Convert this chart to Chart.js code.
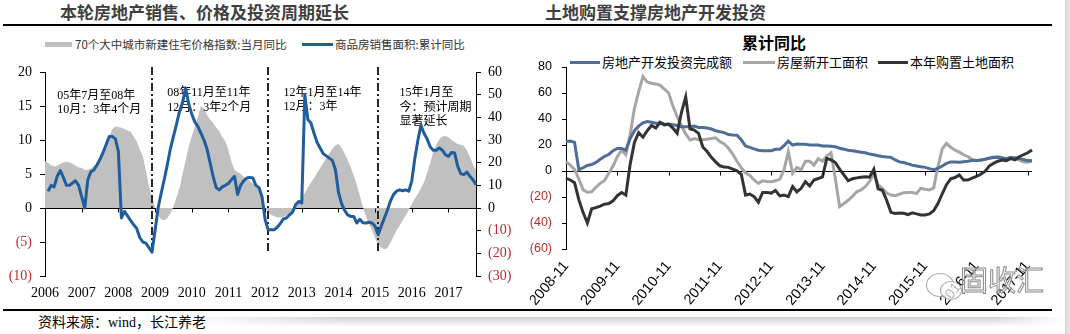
<!DOCTYPE html>
<html>
<head>
<meta charset="utf-8">
<script src="https://cdn.jsdelivr.net/npm/chart.js@4.4.0/dist/chart.umd.min.js"></script>
<style>
  html, body { margin: 0; padding: 0; background: #fff; }
  body { width: 1070px; height: 334px; position: relative; overflow: hidden; font-family: "Noto Sans CJK SC", sans-serif; }
  .abs { position: absolute; white-space: nowrap; }
  .title { top: 1px; font-size: 17px; line-height: 22px; font-weight: 700; color: #3f3f3f; }
  .rule { height: 2px; background: #000; }
  .lg-small { font-size: 11.5px; line-height: 14px; color: #333; }
  .lg { font-size: 13px; line-height: 16px; color: #000; }
  canvas { position: absolute; top: 0; }
</style>
</head>
<body>
  <div class="abs title" style="left:60px">本轮房地产销售、价格及投资周期延长</div>
  <div class="abs title" style="left:545px">土地购置支撑房地产开发投资</div>
  <div class="abs rule" style="left:3px;top:24px;width:1049px"></div>

  <!-- left legend -->
  <div class="abs" style="left:45px;top:42px;width:27px;height:5px;background:#c0c0c0"></div>
  <div class="abs lg-small" style="left:75px;top:37px">70个大中城市新建住宅价格指数:当月同比</div>
  <div class="abs" style="left:302px;top:43px;width:31px;height:3px;background:#1f5d9c"></div>
  <div class="abs lg-small" style="left:335px;top:37px">商品房销售面积:累计同比</div>

  <!-- right chart heading and legend -->
  <div class="abs" style="left:742px;top:32px;font-size:16px;line-height:20px;font-weight:700;color:#000">累计同比</div>
  <div class="abs" style="left:570px;top:61px;width:30px;height:3px;background:#4e6d98"></div>
  <div class="abs lg" style="left:602px;top:54px">房地产开发投资完成额</div>
  <div class="abs" style="left:743px;top:61px;width:32px;height:3px;background:#a6a6a6"></div>
  <div class="abs lg" style="left:777px;top:54px">房屋新开工面积</div>
  <div class="abs" style="left:878px;top:61px;width:30px;height:3px;background:#333"></div>
  <div class="abs lg" style="left:910px;top:54px">本年购置土地面积</div>

  <canvas id="cL" width="540" height="310" style="left:0"></canvas>
  <canvas id="cR" width="540" height="310" style="left:530px"></canvas>

  <!-- account mark -->
  <div class="abs" style="left:926px;top:273px;width:26px;height:22px;border:1px solid #aaa;border-radius:50%"></div>
  <div class="abs" style="left:940px;top:281px;width:20px;height:17px;border:1px solid #aaa;border-radius:50%;background:rgba(255,255,255,0.7)"></div>
  <div class="abs" style="left:960px;top:262px;font-size:28px;line-height:34px;color:rgba(255,255,255,0.5);-webkit-text-stroke:1px #8a8a8a">固收汇</div>

  <div class="abs rule" style="left:3px;top:309px;width:1049px"></div>
  <div class="abs" style="left:38px;top:314px;font-size:14px;line-height:17px;color:#000;font-family:'Liberation Serif','Noto Sans CJK SC',serif">资料来源：wind，长江养老</div>
  <div class="abs" style="left:180px;top:317px;width:885px;height:10px;background:linear-gradient(to bottom, rgba(170,170,170,0.55), rgba(255,255,255,0));-webkit-mask-image:linear-gradient(to right, transparent, #000 18%, #000 92%, transparent)"></div>
  <div class="abs" style="left:1065px;top:0;width:5px;height:334px;background:#e3e3e3;border-left:1px solid #cfcfcf"></div>

<script>
Chart.defaults.animation = false;

// ---------- left chart: sales area vs. 70-city price index (monthly, 2006-01 .. 2017-10)
const monthsL = [];
for (let y = 2006; y <= 2017; y++) {
  for (let m = 1; m <= 12; m++) {
    if (y === 2017 && m > 10) break;
    monthsL.push(y + '-' + String(m).padStart(2, '0'));
  }
}

// 70个大中城市新建住宅价格指数:当月同比 (%)
const priceIndexYoY = [
  6.9, 6.6, 6.3, 6.1, 6.2, 6.5, 6.7, 6.8, 6.7, 6.5, 6.2, 6.0,
  5.9, 5.6, 5.6, 5.8, 6.2, 6.6, 7.2, 7.9, 9.0, 10.5, 11.6, 12.0,
  11.9, 11.8, 11.6, 11.4, 11.2, 10.5, 9.8, 8.6, 7.6, 5.5, 3.2, 1.5,
  0.1, -1.0, -1.7, -1.8, -1.5, -0.8, 0.2, 1.5, 2.9, 5.0, 7.0, 9.0,
  10.5, 12.0, 13.3, 15.0, 14.6, 13.7, 13.0, 12.5, 11.8, 11.3, 10.4, 9.8,
  8.5, 6.8, 5.6, 5.3, 5.0, 4.6, 4.3, 4.0, 3.6, 3.5, 2.9, 1.5,
  0.0, -0.7, -1.0, -1.2, -1.4, -1.4, -1.3, -1.1, -0.9, -0.5, 0.0, 0.7,
  1.5, 2.2, 3.0, 3.7, 4.4, 5.1, 5.9, 6.6, 7.3, 8.0, 8.7, 9.2,
  9.4, 8.9, 8.0, 7.1, 6.0, 4.8, 3.4, 1.8, 0.2, -1.2, -2.4, -3.2,
  -4.5, -5.3, -5.8, -6.1, -5.9, -5.1, -4.2, -3.3, -2.6, -1.8, -1.1, -0.3,
  0.6, 1.4, 2.1, 2.9, 3.8, 5.2, 6.6, 8.2, 9.3, 10.1, 10.5, 10.6,
  10.4, 10.0, 9.7, 9.4, 9.3, 9.1, 8.5, 7.5, 6.4, 5.6
];

// 商品房销售面积:累计同比 (%)
const salesAreaYoY = [
  null, 7.4, 10, 9.3, 14, 16.5, 13.5, 10, 10, 11, 12, 10,
  5, 0, 12.5, 16, 16.8, 19, 21.5, 24.5, 28, 31.5, 31.5, 30.6,
  25, -4.4, -1.5, -3.5, -5.5, -7.4, -9, -13, -15, -15.5, -17.5, -19.5,
  -10, 0, 6.5, 12.5, 19, 26, 31.5, 36.8, 42.6, 46.5, 53, 46,
  41.5, 38, 36, 33, 30, 26, 20, 14, 9, 8, 9.3, 10,
  10.8, 12.5, 14, 6, 10, 12, 13.2, 13.5, 13.2, 10, 9, 5,
  -5, -9.6, -9.6, -9.6, -8.5, -6.8, -4.8, -4.4, -3, -1.8, 1.5, 2.9,
  2.2, 50, 39, 37.5, 33, 29, 26.5, 24, 23, 22, 21, 17,
  7, 2, -1, -3, -3.7, -3.7, -6.6, -5, -6.5, -6.6, -6.3, -6.6,
  -8, -11.8, -8, -4.5, -1, 3, 5.9, 7.4, 8, 7.6, 8, 7.4,
  12, 22, 30, 36.5, 33, 30.5, 27, 25.5, 25.5, 26.5, 25.5, 23.5,
  22.8, 24.5, 24.3, 18.5, 15.2, 14.7, 15.8, 14, 12.5, 10.3
];

// starts of each cycle (dash-dot separators) and the notes beside them
const cycleStarts = ['2008-12', '2012-02', '2015-02'];
const cycleNotes = [
  { at: '2006-05', top: 16.5, lines: ['05年7月至08年', '10月：3年4个月'] },
  { at: '2009-05', top: 16.9, lines: ['08年11月至11年', '12月：3年2个月'] },
  { at: '2012-07', top: 17.0, lines: ['12年1月至14年', '12月：3年'] },
  { at: '2015-09', top: 16.9, lines: ['15年1月至', '今：预计周期', '显著延长'] }
];

// ---------- right chart: land purchase / new starts / investment (cumulative YoY, 2008-11 .. 2017-12)
const monthsR = [];
for (let y = 2008; y <= 2017; y++) {
  for (let m = 1; m <= 12; m++) {
    if (y === 2008 && m < 11) continue;
    monthsR.push(y + '-' + String(m).padStart(2, '0'));
  }
}

// 房地产开发投资完成额
const investYoY = [
  22.6, 23,
  22, 1, 2.5, 4.2, 5, 6.6, 9, 11.2, 12.8, 15.6, 17.4, 17.4,
  16, 25, 31, 34.5, 37, 38, 37.5, 36.7, 36.7, 36, 36, 35.5,
  35, 34, 34, 34, 34.5, 33.5, 33.5, 33, 32.3, 31, 30.2, 29.5,
  28, 27.7, 27.5, 24, 19.2, 18.2, 17, 16, 15.6, 15.6, 15.6, 16.7,
  16.7, 19.5, 23, 20, 20.8, 20.5, 20.5, 20, 20, 20, 19.3, 19.2,
  19, 18.6, 17.5, 16.8, 16, 15.5, 15, 14.5, 14, 13, 12.5, 11.8,
  11.2, 10.8, 10.5, 8.5, 7, 6.5, 5.5, 4.5, 3.8, 3.2, 2.8, 1.8,
  1, 2, 3.8, 5.8, 7, 7, 6.8, 7.2, 7.5, 8, 8, 8.5,
  9, 9.8, 10.3, 10.5, 10, 9.7, 10.3, 10.2, 9.5, 8.8, 8, 7.9
];

// 房屋新开工面积
const newStartsYoY = [
  7.2, 4.6,
  1, -6, -14.5, -16.4, -16, -12.5, -9.5, -7.4, -1.8, 3.8, 11, 16,
  12.5, 28, 48, 61, 72.6, 68.5, 67.5, 67, 66, 63, 60, 50,
  41.8, 35, 28.5, 23.8, 25, 24, 24, 24.5, 25, 25.5, 22.6, 20.8,
  17.5, 13, 7.5, 2.5, -1.5, -3.5, -6.9, -9.5, -7.5, -8, -8.2, -7.5,
  -6.4, 0.8, 14.9, -1.8, 2.8, 1, 7.5, 7.5, 4.5, 9.5, 7.5, 11.5,
  14.1, -6, -27.4, -25, -22.5, -19.5, -16, -14.5, -12, -8, -2, -10.8,
  -13.3, -17, -18.5, -19, -17.9, -16.7, -16.5, -16.5, -17.2, -13.3, -14, -14.6,
  -13, 3.3, 17, 21.3, 18.2, 16, 14.5, 12.5, 11, 9, 7.9, 8,
  9, 10, 10.7, 11, 10.5, 8.5, 10.5, 9.5, 8.5, 7, 6.8, 7.7
];

// 本年购置土地面积
const landAreaYoY = [
  -5.6, -6.9,
  -9, -22, -32, -40, -29, -28.2, -27, -25.5, -25, -23, -19, -16.5,
  -18.5, 5, 22, 29.5, 26, 31, 35, 33, 37.5, 35.5, 36, 33,
  29, 45, 57, 32.5, 31.5, 29, 18.5, 15, 10.5, 7, 4, 3,
  2.8, 1.5, 0.2, -2.5, -18.5, -17.7, -19.7, -24, -16.5, -16.5, -17, -15,
  -19.2, -18.5, -19.7, -12, -16, -13.3, -8.2, -11.5, -6.9, -5.8, -4.5, 9.7,
  8.5, 6.5, 1.5, -3, -7.5, -6, -5.3, -4.8, -4.4, -4.8, 1.3, -13.8,
  -14.8, -22.5, -31.8, -32.6, -32.3, -32.5, -33.5, -32.2, -33, -33.8, -33.8, -33,
  -30.5, -25, -17.5, -10.5, -6, -5, -3, -7, -7, -5.5, -4.2, -2.5,
  -0.3, 3.8, 5.9, 7.5, 8.5, 8, 9.5, 8.5, 11, 12.5, 14, 16.2
];

// ---------- shared helpers
const NEG_RED = '#b3302e';
const tickColor = c => (c.tick && c.tick.value < 0 ? NEG_RED : '#000');
const paren = v => (v < 0 ? '(' + (-v) + ')' : String(v));
const zeroLineOnly = c => (c.tick && c.tick.value === 0 ? '#000' : 'rgba(0,0,0,0)');

// short marks hanging from the zero line at each labelled period
function zeroLineMarks(isMarked, yId) {
  return {
    id: 'zeroLineMarks',
    afterDatasetsDraw(chart) {
      const ctx = chart.ctx, xs = chart.scales.x, ys = chart.scales[yId];
      const y0 = Math.round(ys.getPixelForValue(0)) + 0.5;
      ctx.save();
      ctx.strokeStyle = '#000';
      ctx.lineWidth = 1;
      ctx.beginPath();
      chart.data.labels.forEach((lab, i) => {
        if (!isMarked(lab, i)) return;
        const x = Math.round(xs.getPixelForValue(i)) + 0.5;
        ctx.moveTo(x, y0);
        ctx.lineTo(x, y0 + 4);
      });
      ctx.stroke();
      ctx.restore();
    }
  };
}

// cycle separators and notes, painted over the price area but under the sales line
const cycleOverlay = {
  id: 'cycleOverlay',
  afterDatasetDraw(chart, args) {
    if (args.index !== 1) return;
    const ctx = chart.ctx, xs = chart.scales.x, ys = chart.scales.y;
    ctx.save();
    ctx.fillStyle = '#000';
    ctx.font = '12px "Liberation Serif", "Noto Sans CJK SC", serif';
    ctx.textAlign = 'left';
    ctx.textBaseline = 'middle';
    cycleNotes.forEach(n => {
      const x = xs.getPixelForValue(monthsL.indexOf(n.at));
      const y = ys.getPixelForValue(n.top);
      n.lines.forEach((t, k) => ctx.fillText(t, x, y + k * 14.5));
    });
    ctx.strokeStyle = '#262626';
    ctx.lineWidth = 2;
    ctx.setLineDash([8, 3, 2, 3]);
    cycleStarts.forEach(c => {
      const x = Math.round(xs.getPixelForValue(monthsL.indexOf(c)));
      ctx.beginPath();
      ctx.moveTo(x, chart.chartArea.top - 5);
      ctx.lineTo(x, ys.getPixelForValue(-6.5));
      ctx.stroke();
    });
    ctx.restore();
  }
};

const serif = '"Liberation Serif", "Noto Sans CJK SC", serif';
const sans = '"Liberation Sans", "Noto Sans CJK SC", sans-serif';

new Chart(document.getElementById('cL'), {
  type: 'line',
  data: {
    labels: monthsL,
    datasets: [
      {
        label: '商品房销售面积:累计同比',
        data: salesAreaYoY,
        yAxisID: 'y1',
        borderColor: '#1f5d9c',
        borderWidth: 3,
        pointRadius: 0,
        fill: false,
        tension: 0,
        borderJoinStyle: 'round',
        order: 0
      },
      {
        label: '70个大中城市新建住宅价格指数:当月同比',
        data: priceIndexYoY,
        yAxisID: 'y',
        borderWidth: 0,
        borderColor: 'rgba(0,0,0,0)',
        backgroundColor: '#c0c0c0',
        fill: 'origin',
        pointRadius: 0,
        tension: 0,
        order: 1
      }
    ]
  },
  options: {
    responsive: false,
    animation: false,
    events: [],
    layout: { padding: { top: 72, left: 0, right: 0, bottom: 0 } },
    plugins: { legend: { display: false }, tooltip: { enabled: false } },
    scales: {
      x: {
        type: 'category',
        offset: false,
        grid: { display: false, drawTicks: false },
        border: { display: false },
        ticks: {
          autoSkip: false, maxRotation: 0, minRotation: 0, padding: 9,
          color: '#000', font: { family: serif, size: 14 },
          callback: (v, i) => (monthsL[i].endsWith('-01') ? monthsL[i].slice(0, 4) : '')
        },
        afterFit: s => { s.height = 34; s.paddingLeft = 0; s.paddingRight = 0; }
      },
      y: {
        position: 'left', min: -10, max: 20,
        ticks: { stepSize: 5, padding: 8, color: tickColor, font: { family: serif, size: 14 }, callback: paren },
        grid: { color: zeroLineOnly, tickColor: '#000', tickLength: 5, lineWidth: 1 },
        border: { display: true, color: '#000', width: 1 },
        afterFit: s => { s.width = 45; }
      },
      y1: {
        position: 'right', min: -30, max: 60,
        ticks: { stepSize: 10, padding: 7, color: tickColor, font: { family: serif, size: 14 }, callback: paren },
        grid: { drawOnChartArea: false, tickColor: '#000', tickLength: 5 },
        border: { display: true, color: '#000', width: 1 },
        afterFit: s => { s.width = 64; }
      }
    }
  },
  plugins: [cycleOverlay, zeroLineMarks(lab => lab.endsWith('-01'), 'y')]
});

new Chart(document.getElementById('cR'), {
  type: 'line',
  data: {
    labels: monthsR,
    datasets: [
      { label: '本年购置土地面积', data: landAreaYoY, borderColor: '#333333', borderWidth: 3, pointRadius: 0, fill: false, tension: 0, order: 0 },
      { label: '房地产开发投资完成额', data: investYoY, borderColor: '#4e6d98', borderWidth: 3, pointRadius: 0, fill: false, tension: 0, order: 1 },
      { label: '房屋新开工面积', data: newStartsYoY, borderColor: '#a6a6a6', borderWidth: 3, pointRadius: 0, fill: false, tension: 0, order: 2 }
    ]
  },
  options: {
    responsive: false,
    animation: false,
    events: [],
    layout: { padding: { top: 67, left: 0, right: 38, bottom: 0 } },
    plugins: { legend: { display: false }, tooltip: { enabled: false } },
    scales: {
      x: {
        type: 'category',
        offset: false,
        grid: { display: false, drawTicks: false },
        border: { display: false },
        ticks: {
          autoSkip: false, maxRotation: 50, minRotation: 50, padding: 9,
          color: '#000', font: { family: sans, size: 14.5 },
          callback: (v, i) => (i % 12 === 0 ? monthsR[i] : '')
        },
        afterFit: s => { s.height = 61; s.paddingLeft = 0; s.paddingRight = 0; }
      },
      y: {
        position: 'left', min: -60, max: 80,
        ticks: { stepSize: 20, padding: 10, color: tickColor, font: { family: sans, size: 12.5 }, callback: paren },
        grid: { color: zeroLineOnly, tickColor: '#000', tickLength: 4, lineWidth: 1 },
        border: { display: true, color: '#000', width: 1 },
        afterFit: s => { s.width = 36; }
      }
    }
  },
  plugins: [zeroLineMarks((lab, i) => i % 12 === 0 && i > 0, 'y')]
});
</script>
</body>
</html>
